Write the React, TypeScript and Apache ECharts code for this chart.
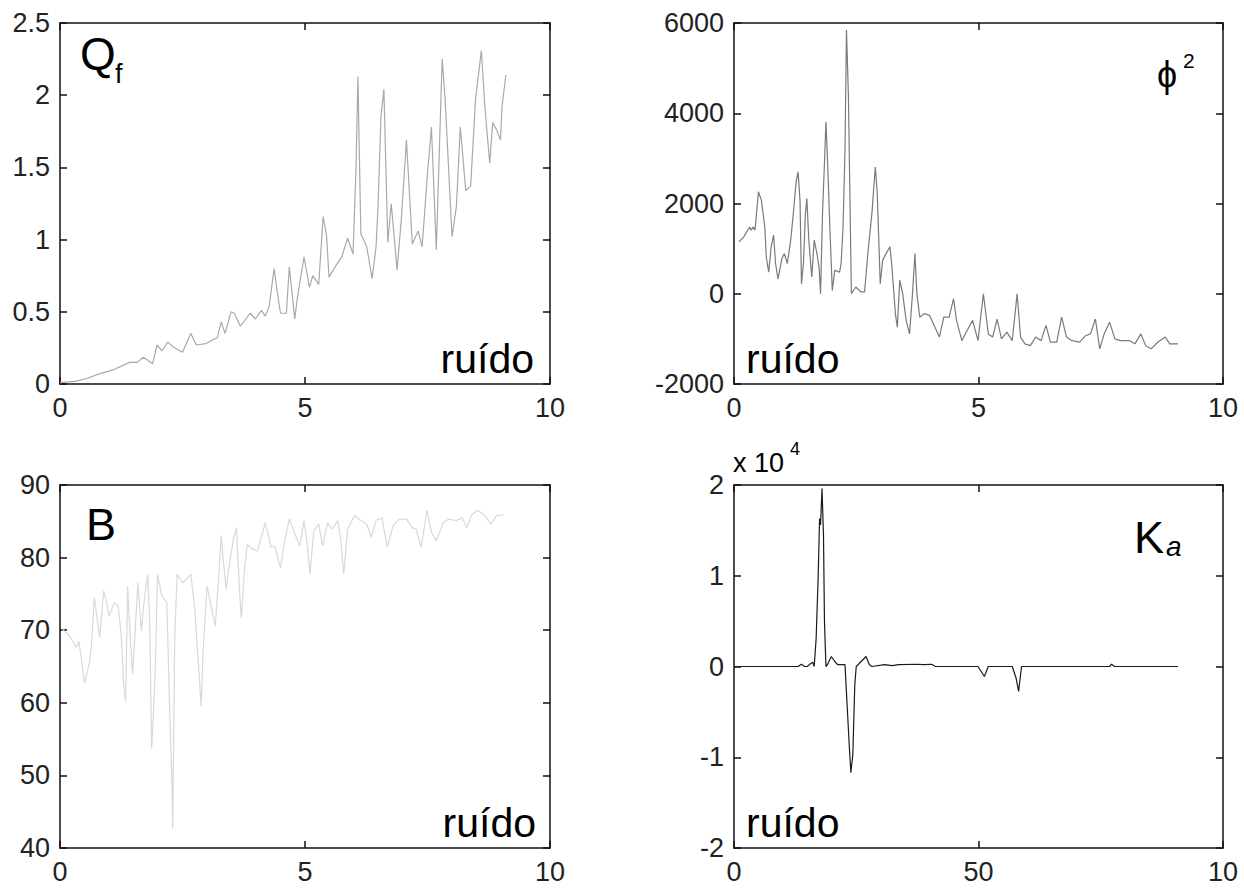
import React, { useEffect, useRef } from "react";
import * as echarts from "echarts";

// Q_f vs ruído
const qfData: number[][] = [
  [0, 0.01], [0.33, 0.02], [0.56, 0.04], [0.8, 0.07], [1.1, 0.1], [1.42, 0.15], [1.58, 0.15],
  [1.7, 0.185], [1.77, 0.17], [1.89, 0.14], [1.98, 0.27], [2.08, 0.23], [2.2, 0.29], [2.32, 0.255],
  [2.5, 0.22], [2.67, 0.35], [2.78, 0.27], [2.98, 0.28], [3.14, 0.31], [3.21, 0.32], [3.29, 0.43],
  [3.37, 0.35], [3.49, 0.5], [3.56, 0.49], [3.68, 0.4], [3.88, 0.49], [3.99, 0.45], [4.11, 0.51],
  [4.19, 0.47], [4.27, 0.54], [4.37, 0.8], [4.42, 0.67], [4.5, 0.49], [4.62, 0.49], [4.68, 0.81],
  [4.73, 0.65], [4.79, 0.45], [4.85, 0.61], [4.98, 0.88], [5.09, 0.67], [5.16, 0.75], [5.28, 0.69],
  [5.37, 1.16], [5.44, 1.03], [5.49, 0.74], [5.63, 0.82], [5.75, 0.88], [5.87, 1.01], [5.98, 0.9],
  [6.04, 1.48], [6.08, 2.13], [6.14, 1.04], [6.26, 0.95], [6.37, 0.73], [6.45, 0.95], [6.49, 1.23],
  [6.55, 1.85], [6.61, 2.04], [6.69, 0.98], [6.76, 1.25], [6.88, 0.79], [6.97, 1.16], [7.07, 1.69],
  [7.19, 0.97], [7.31, 1.06], [7.39, 0.95], [7.5, 1.46], [7.58, 1.78], [7.68, 0.93], [7.74, 1.6],
  [7.8, 2.25], [7.86, 1.97], [8.0, 1.02], [8.09, 1.23], [8.17, 1.78], [8.28, 1.34], [8.38, 1.37],
  [8.48, 1.97], [8.6, 2.31], [8.67, 1.92], [8.77, 1.53], [8.83, 1.81], [8.91, 1.76], [8.99, 1.69],
  [9.02, 1.92], [9.1, 2.14],
];

// phi^2 vs ruído
const phiData: number[][] = [
  [0.1, 1150], [0.2, 1260], [0.32, 1480], [0.35, 1410], [0.39, 1480], [0.43, 1410], [0.5, 2260],
  [0.56, 2070], [0.63, 1480], [0.66, 815], [0.71, 480], [0.76, 1040], [0.81, 1300], [0.85, 670],
  [0.9, 330], [0.98, 780], [1.03, 890], [1.09, 670], [1.16, 1190], [1.22, 1850], [1.27, 2480],
  [1.31, 2700], [1.35, 2070], [1.38, 220], [1.42, 670], [1.46, 1780], [1.49, 2110], [1.53, 1190],
  [1.59, 370], [1.64, 1190], [1.69, 930], [1.74, 590], [1.77, 0], [1.81, 1780], [1.85, 2890],
  [1.88, 3810], [1.91, 3040], [1.96, 1480], [2.01, 70], [2.06, 520], [2.16, 480], [2.19, 670],
  [2.23, 1480], [2.27, 3190], [2.3, 5850], [2.34, 4370], [2.38, 1480], [2.4, 0], [2.49, 150],
  [2.6, 40], [2.67, 40], [2.75, 1040], [2.82, 1780], [2.86, 2370], [2.89, 2810], [2.93, 2220],
  [2.99, 220], [3.04, 740], [3.11, 890], [3.19, 1040], [3.23, 590], [3.3, -440], [3.34, -740],
  [3.39, 300], [3.45, 0], [3.52, -590], [3.59, -890], [3.65, 0], [3.7, 890], [3.74, 0], [3.8, -520],
  [3.89, -440], [4.0, -480], [4.11, -740], [4.2, -960], [4.29, -520], [4.4, -520], [4.49, -110],
  [4.55, -590], [4.66, -1040], [4.77, -810], [4.88, -590], [4.99, -1040], [5.1, 0], [5.2, -890],
  [5.29, -960], [5.38, -560], [5.47, -1000], [5.58, -850], [5.69, -1040], [5.79, 0], [5.86, -960],
  [5.95, -1110], [6.06, -1150], [6.17, -960], [6.28, -1040], [6.38, -700], [6.47, -1070], [6.6, -1070],
  [6.7, -520], [6.8, -960], [6.91, -1040], [7.07, -1070], [7.19, -930], [7.29, -890], [7.39, -560],
  [7.48, -1220], [7.57, -890], [7.68, -630], [7.79, -1000], [7.9, -1040], [8.09, -1040], [8.2, -1110],
  [8.32, -890], [8.42, -1150], [8.53, -1220], [8.67, -1070], [8.82, -960], [8.91, -1110], [9.08, -1110],
];

// B vs ruído
const bData: number[][] = [
  [0.05, 70.1], [0.17, 69.4], [0.29, 68.2], [0.33, 67.6], [0.38, 68.5], [0.42, 66.9], [0.5, 62.7],
  [0.6, 65.5], [0.64, 67.8], [0.7, 74.5], [0.76, 71.5], [0.81, 69], [0.89, 75.4], [0.95, 73.8],
  [1.0, 71.9], [1.11, 73.8], [1.19, 73.3], [1.25, 69.2], [1.3, 62.5], [1.34, 60.2], [1.38, 76.1],
  [1.42, 70.6], [1.48, 63.9], [1.54, 70.6], [1.59, 76.5], [1.66, 69.9], [1.72, 74.2], [1.79, 77.7],
  [1.83, 71.5], [1.87, 53.7], [1.91, 59.0], [1.95, 65.9], [1.99, 77.7], [2.08, 74.7], [2.18, 73.8],
  [2.24, 58.6], [2.28, 50.3], [2.3, 42.7], [2.34, 68.7], [2.39, 77.7], [2.5, 76.5], [2.67, 77.7],
  [2.75, 72.9], [2.82, 65.9], [2.88, 59.5], [2.92, 66.9], [3.0, 76.1], [3.07, 73.8], [3.17, 70.6],
  [3.23, 76.5], [3.29, 83.0], [3.33, 79.8], [3.39, 75.6], [3.45, 78.8], [3.54, 82.5], [3.6, 84.1],
  [3.67, 74.7], [3.7, 71.7], [3.76, 77.9], [3.82, 81.8], [3.92, 81.2], [4.03, 80.9], [4.19, 84.8],
  [4.31, 81.4], [4.38, 81.6], [4.5, 78.6], [4.58, 82.1], [4.68, 85.3], [4.81, 83.0], [4.89, 81.6],
  [4.98, 85.1], [5.05, 81.6], [5.1, 77.7], [5.18, 83.7], [5.28, 84.6], [5.36, 81.6], [5.46, 84.8],
  [5.55, 83.9], [5.67, 85.1], [5.73, 82.5], [5.79, 77.7], [5.87, 83.9], [6.01, 85.8], [6.14, 85.1],
  [6.26, 84.6], [6.35, 82.8], [6.45, 85.1], [6.57, 85.5], [6.68, 81.4], [6.8, 84.4], [6.92, 85.3],
  [7.07, 85.3], [7.19, 84.1], [7.27, 83.9], [7.37, 81.4], [7.49, 86.5], [7.58, 83.5], [7.68, 82.3],
  [7.82, 84.8], [7.93, 85.3], [8.09, 85.1], [8.21, 85.5], [8.3, 84.1], [8.4, 85.9], [8.52, 86.5],
  [8.66, 85.9], [8.79, 84.6], [8.91, 85.8], [9.06, 85.9],
];

// K_a vs index
const kaData: number[][] = [
  [0, 0], [13.1, 0], [13.8, 260], [14.4, 0], [15, 0], [15.5, 260], [16.1, 480], [16.4, 0],
  [16.8, 3100], [17.2, 9700], [17.5, 16300], [17.7, 15600], [18.0, 19600], [18.3, 14500],
  [18.5, 5000], [18.8, 0], [19.1, 200], [19.9, 1100], [20.6, 550], [21.2, 200], [22.7, 200],
  [23.0, -2900], [23.6, -9000], [23.9, -11700], [24.3, -9700], [24.7, -2000], [25.0, 0],
  [26.0, 550], [27.0, 1100], [27.7, 200], [28.2, 0], [30.8, 200], [32.3, 100], [33.7, 200],
  [37.4, 250], [38.9, 200], [40.4, 250], [41.2, 0], [49.9, 0], [51.2, -1100], [52.0, 0],
  [56.9, 0], [57.7, -1300], [58.2, -2750], [58.8, 0], [76.8, 0], [77.2, 250], [77.8, 0], [90.8, 0],
];

const qfTicks = { min: 0, max: 2.5, interval: 0.5 };
const phiTicks = { min: -2000, max: 6000, interval: 2000 };
const bTicks = { min: 40, max: 90, interval: 10 };
const kaTicks = { min: -20000, max: 20000, interval: 10000 };
const xTicksNoise = { min: 0, max: 10, interval: 5 };
const xTicksIndex = { min: 0, max: 100, interval: 50 };

const FONT = "'Liberation Sans', Arial, Helvetica, sans-serif";
const AXIS_COLOR = "#111";

const plain = (v: number) => String(v);

function makeAxes(gridIndex: number, xs: any, ys: any, xFmt: (v: number) => string = plain, yFmt: (v: number) => string = plain) {
  const line = { show: true, onZero: false, lineStyle: { color: AXIS_COLOR, width: 1.5 } };
  const tick = { show: true, inside: true, length: 7, lineStyle: { color: AXIS_COLOR, width: 1.5 } };
  const label = { fontSize: 27, color: "#222", fontFamily: FONT, margin: 10 };
  const xAxes = [
    {
      type: "value", gridIndex, position: "bottom", ...xs,
      axisLine: line, axisTick: tick, splitLine: { show: false },
      axisLabel: { ...label, formatter: xFmt },
    },
    {
      type: "value", gridIndex, position: "top", ...xs,
      axisLine: line, axisTick: tick, splitLine: { show: false }, axisLabel: { show: false },
    },
  ];
  const yAxes = [
    {
      type: "value", gridIndex, position: "left", ...ys,
      axisLine: line, axisTick: tick, splitLine: { show: false },
      axisLabel: { ...label, formatter: yFmt },
    },
    {
      type: "value", gridIndex, position: "right", ...ys,
      axisLine: line, axisTick: tick, splitLine: { show: false }, axisLabel: { show: false },
    },
  ];
  return { xAxes, yAxes };
}

function txt(text: string, x: number, y: number, size: number, align: string, extra: any = {}) {
  return {
    type: "text",
    x,
    y,
    silent: true,
    style: {
      text,
      fill: "#000",
      font: `${extra.italic ? "italic " : ""}${size}px ${FONT}`,
      fontSize: size,
      fontFamily: FONT,
      fontStyle: extra.italic ? "italic" : "normal",
      textAlign: align,
      align,
      textVerticalAlign: "middle",
      verticalAlign: "middle",
    },
  };
}

export default function App() {
  const ref = useRef<HTMLDivElement>(null);
  useEffect(() => {
    const chart = echarts.init(ref.current!, null, { renderer: "svg" });
    const a0 = makeAxes(0, xTicksNoise, qfTicks);
    const a1 = makeAxes(1, xTicksNoise, phiTicks);
    const a2 = makeAxes(2, xTicksNoise, bTicks);
    const a3 = makeAxes(3, xTicksIndex, kaTicks, (v: number) => (v === 100 ? "10" : String(v)), (v: number) => String(v / 10000));
    const lineSeries = (data: number[][], idx: number, color: string) => ({
      type: "line",
      data,
      xAxisIndex: idx * 2,
      yAxisIndex: idx * 2,
      showSymbol: false,
      symbol: "none",
      lineStyle: { color, width: 1.2 },
      silent: true,
    });
    chart.setOption({
      animation: false,
      backgroundColor: "#fff",
      grid: [
        { left: 60, top: 23, width: 490, height: 361 },
        { left: 734, top: 23, width: 489, height: 361 },
        { left: 60, top: 485, width: 490, height: 363 },
        { left: 734, top: 485, width: 489, height: 363 },
      ],
      xAxis: [...a0.xAxes, ...a1.xAxes, ...a2.xAxes, ...a3.xAxes],
      yAxis: [...a0.yAxes, ...a1.yAxes, ...a2.yAxes, ...a3.yAxes],
      series: [
        lineSeries(qfData, 0, "#a9a9a9"),
        lineSeries(phiData, 1, "#7a7a7a"),
        lineSeries(bData, 2, "#d9d9d9"),
        lineSeries(kaData, 3, "#1a1a1a"),
      ],
      graphic: [
        txt("Q", 80, 54, 46, "left"),
        txt("f", 115, 74, 27, "left"),
        txt("ruído", 534, 359, 41, "right"),
        txt("ϕ", 1157, 74, 36, "left"),
        txt("2", 1183, 60, 21, "left"),
        txt("ruído", 746, 359, 41, "left"),
        txt("B", 86, 524, 45, "left"),
        txt("ruído", 536, 823, 41, "right"),
        txt("K", 1134, 537, 45, "left"),
        txt("a", 1166, 546, 28, "left", { italic: true }),
        txt("ruído", 746, 823, 41, "left"),
        txt("x 10", 733, 463, 27, "left"),
        txt("4", 790, 449, 18, "left"),
      ],
    });
    return () => chart.dispose();
  }, []);
  return (
    <div
      ref={ref}
      style={{ position: "absolute", left: 0, top: 0, width: 1244, height: 888, background: "#fff" }}
    />
  );
}
